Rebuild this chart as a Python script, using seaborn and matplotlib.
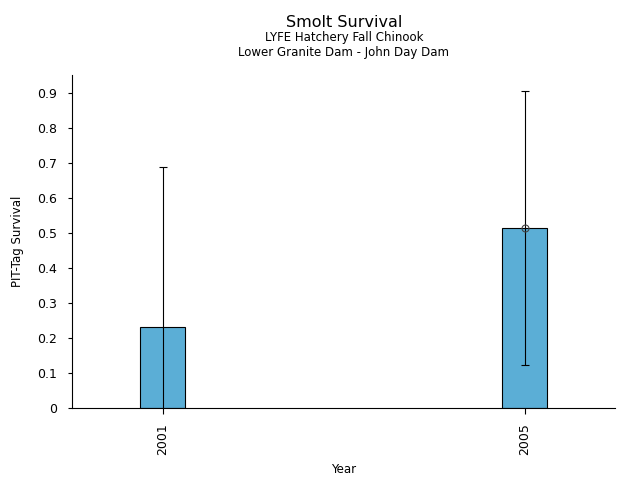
import matplotlib
matplotlib.use("Agg")
import matplotlib.pyplot as plt
import seaborn as sns
import pandas as pd

years = [2001, 2005]
survival = [0.232, 0.516]
lower = [-0.05, 0.123]
upper = [0.689, 0.908]

sns.set_style("ticks")
plt.rcParams['font.family'] = ['DejaVu Sans']
plt.rcParams['text.color'] = 'black'
plt.rcParams['axes.labelcolor'] = 'black'
plt.rcParams['xtick.color'] = 'black'
plt.rcParams['ytick.color'] = 'black'
plt.rcParams['axes.edgecolor'] = 'black'

df = pd.DataFrame({"Year": years, "Survival": survival})

fig = plt.figure(figsize=(6.4, 4.8), dpi=100)
ax = fig.add_axes([0.1125, 0.15, 0.8485, 0.694])

sns.barplot(data=df, x="Year", y="Survival", native_scale=True, width=0.125,
            color="#5BAED6", saturation=1, edgecolor="black", linewidth=0.8,
            errorbar=None, ax=ax)

for yr, v, lo, hi in zip(years, survival, lower, upper):
    ax.errorbar([yr], [v], yerr=[[v - lo], [hi - v]], fmt="none", ecolor="black",
                elinewidth=0.8, capsize=3, capthick=0.8)
ax.plot([years[1]], [survival[1]], marker="o", mfc="none", mec="#444444",
        ms=5, mew=0.8, linestyle="none")

ax.set_xlim(2000, 2006)
ax.set_ylim(0, 0.953)
ax.set_xticks(years)
ax.set_xticklabels([str(y) for y in years], rotation=90, fontsize=9)
ax.set_yticks([0, 0.1, 0.2, 0.3, 0.4, 0.5, 0.6, 0.7, 0.8, 0.9])
ax.set_yticklabels(["0", "0.1", "0.2", "0.3", "0.4", "0.5", "0.6", "0.7", "0.8", "0.9"], fontsize=9)
ax.tick_params(axis="x", length=4.5, width=0.8, pad=6.5)
ax.tick_params(axis="y", length=3, width=0.8, pad=8)
ax.set_xlabel("Year", fontsize=8.5, labelpad=6)
ax.set_ylabel("PIT-Tag Survival", fontsize=8.5, labelpad=9)
sns.despine(ax=ax)

fig.text(0.5375, 0.953, "Smolt Survival", ha="center", va="center", fontsize=11.5)
fig.text(0.5375, 0.921, "LYFE Hatchery Fall Chinook", ha="center", va="center", fontsize=8.5)
fig.text(0.5375, 0.891, "Lower Granite Dam - John Day Dam", ha="center", va="center", fontsize=8.5)

fig.savefig("out.png", dpi=100)
